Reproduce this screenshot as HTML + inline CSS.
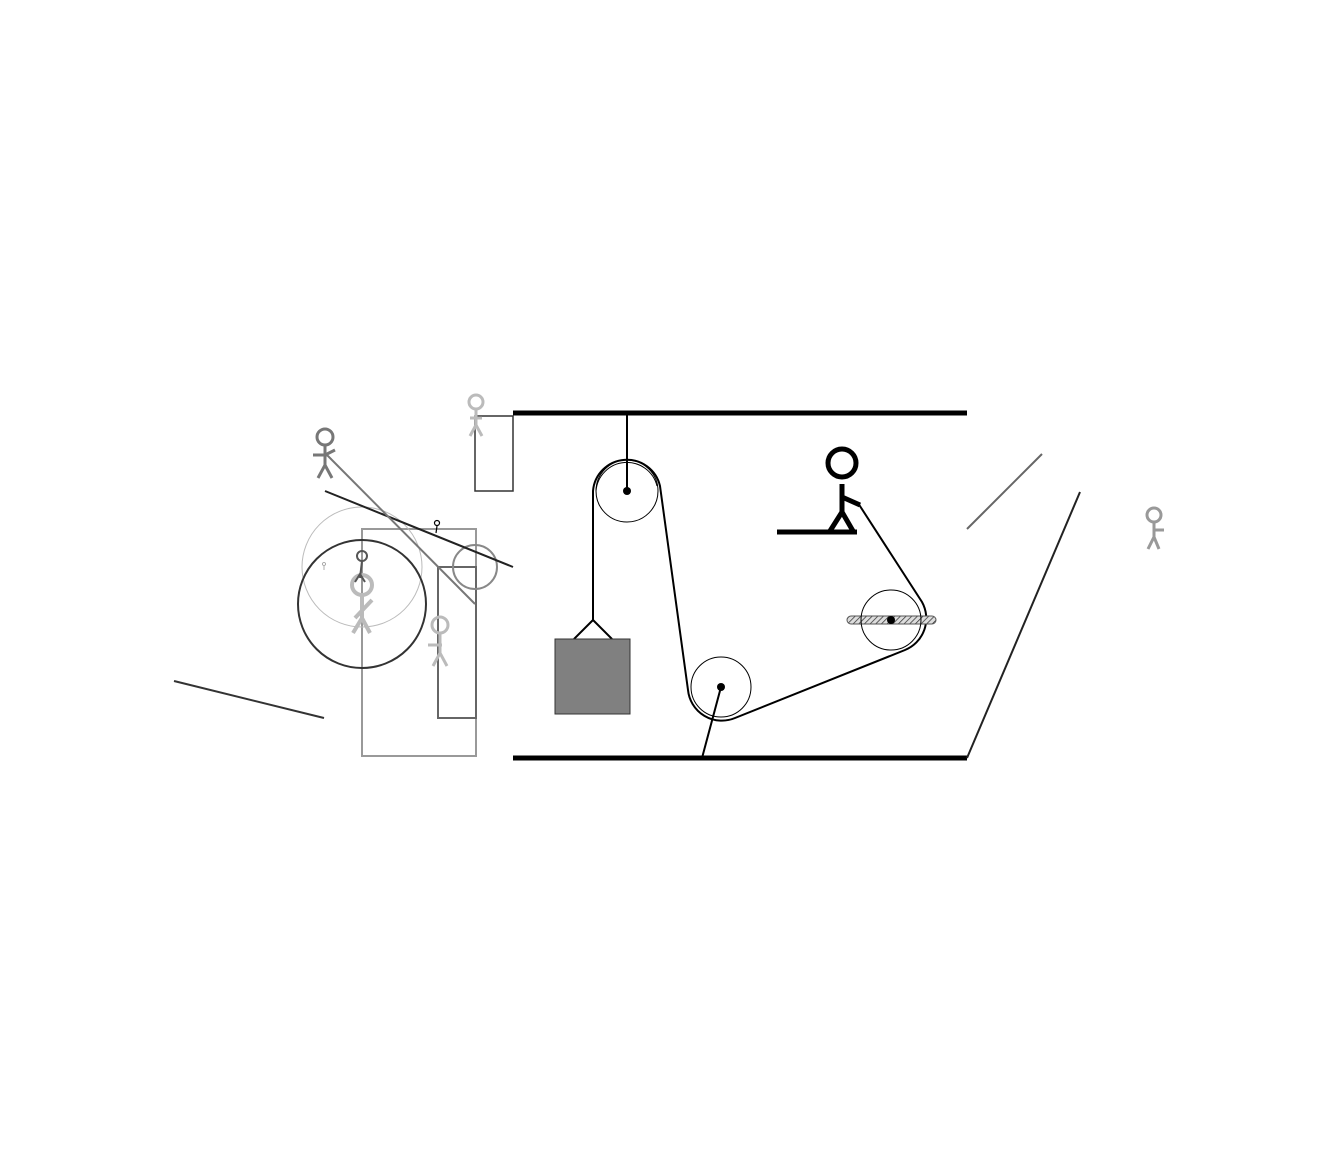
<!DOCTYPE html>
<html><head><meta charset="utf-8"><style>html,body{margin:0;background:#fff}svg{display:block}</style></head>
<body>
<svg width="1343" height="1151" viewBox="0 0 1343 1151" xmlns="http://www.w3.org/2000/svg">
<defs>
<pattern id="hatch" width="4" height="4" patternUnits="userSpaceOnUse" patternTransform="rotate(45)"><rect width="4" height="4" fill="#ddd"/><line x1="0" y1="0" x2="0" y2="4" stroke="#333" stroke-width="1.5"/></pattern>
<g id="fig"><circle cx="0" cy="-8" r="6" fill="none" stroke-width="3"/><line x1="0" y1="-2" x2="0" y2="12"/><line x1="0" y1="12" x2="-5" y2="22"/><line x1="0" y1="12" x2="5" y2="22"/><line x1="-8" y1="4" x2="8" y2="4"/></g>
</defs>
<!-- ceiling & floor -->
<line x1="513" y1="413" x2="967" y2="413" stroke="#000" stroke-width="5"/>
<line x1="513" y1="758" x2="967" y2="758" stroke="#000" stroke-width="5"/>
<line x1="967" y1="758" x2="1080" y2="492" stroke="#222" stroke-width="2"/>
<line x1="967" y1="529" x2="1042" y2="454" stroke="#666" stroke-width="2"/>
<!-- top pulley -->
<line x1="627" y1="413" x2="627" y2="491" stroke="#000" stroke-width="2"/>
<circle cx="627" cy="491" r="31" fill="none" stroke="#000" stroke-width="1"/>
<circle cx="627" cy="491" r="4" fill="#000"/>
<!-- rope -->
<path d="M593,620 L593,491 A34,34 0 0 1 660,486 L688,690 A34,34 0 0 0 735,718 L905,650 A34,34 0 0 0 922,602 L858,503" fill="none" stroke="#000" stroke-width="2"/>
<path d="M596,491 A31,31 0 0 1 657,486" fill="none" stroke="#000" stroke-width="1"/>
<!-- weight -->
<path d="M593,620 L574,639 M593,620 L612,639" stroke="#000" stroke-width="2"/>
<rect x="555" y="639" width="75" height="75" fill="#808080" stroke="#333" stroke-width="1"/>
<!-- bottom pulley -->
<circle cx="721" cy="687" r="30" fill="none" stroke="#000" stroke-width="1"/>
<circle cx="721" cy="687" r="4" fill="#000"/>
<line x1="721" y1="687" x2="702" y2="758" stroke="#000" stroke-width="2"/>
<!-- right pulley -->
<rect x="847" y="616" width="89" height="8" rx="4" fill="url(#hatch)" stroke="#555" stroke-width="1"/>
<circle cx="891" cy="620" r="30" fill="none" stroke="#000" stroke-width="1"/>
<circle cx="891" cy="620" r="4" fill="#000"/>
<!-- man -->
<g stroke="#000" stroke-width="5" fill="none">
<circle cx="842" cy="463" r="14"/>
<line x1="842" y1="484" x2="842" y2="512"/>
<path d="M830,531 L842,512 L853,531"/>
<line x1="842" y1="497" x2="860" y2="505"/>
</g>
<line x1="777" y1="532" x2="857" y2="532" stroke="#000" stroke-width="5"/>
<!-- left cluster -->
<rect x="362" y="529" width="114" height="227" fill="none" stroke="#999" stroke-width="2"/>
<rect x="438" y="567" width="38" height="151" fill="none" stroke="#666" stroke-width="2"/>
<rect x="475" y="416" width="38" height="75" fill="none" stroke="#333" stroke-width="1.5"/>
<circle cx="362" cy="567" r="60" fill="none" stroke="#bbb" stroke-width="1"/>
<circle cx="362" cy="604" r="64" fill="none" stroke="#333" stroke-width="2"/>
<circle cx="475" cy="567" r="22" fill="none" stroke="#888" stroke-width="2"/>
<line x1="325" y1="491" x2="513" y2="567" stroke="#222" stroke-width="2"/>
<line x1="327" y1="455" x2="475" y2="604" stroke="#777" stroke-width="2"/>
<line x1="174" y1="681" x2="324" y2="718" stroke="#333" stroke-width="2"/>
<g stroke="#777" stroke-width="3" fill="none"><circle cx="325" cy="437" r="8"/><line x1="325" y1="446" x2="325" y2="465"/><path d="M318,478 L325,465 L332,478"/><line x1="313" y1="455" x2="327" y2="455"/><line x1="325" y1="455" x2="335" y2="450"/></g>
<g stroke="#bbb" stroke-width="3" fill="none"><circle cx="476" cy="402" r="7"/><line x1="476" y1="409" x2="476" y2="425"/><path d="M470,436 L476,425 L482,436"/><line x1="470" y1="418" x2="482" y2="418"/></g>
<g stroke="#bbb" stroke-width="3" fill="none"><circle cx="440" cy="625" r="8"/><line x1="440" y1="634" x2="440" y2="653"/><path d="M433,666 L440,653 L447,666"/><line x1="428" y1="645" x2="442" y2="645"/></g>
<g stroke="#bbb" stroke-width="4" fill="none"><circle cx="362" cy="585" r="10"/><line x1="362" y1="596" x2="362" y2="618"/><path d="M353,633 L362,618 L370,633"/><line x1="355" y1="618" x2="372" y2="600"/></g>
<g stroke="#555" stroke-width="2" fill="none"><circle cx="362" cy="556" r="5"/><line x1="362" y1="561" x2="360" y2="578"/><path d="M355,582 L360,574 L365,582"/></g>
<g stroke="#000" stroke-width="1.2" fill="none"><circle cx="437" cy="523" r="2.5"/><line x1="437" y1="526" x2="436" y2="533"/></g>
<g stroke="#999" stroke-width="0.8" fill="none"><circle cx="324" cy="564" r="1.5"/><line x1="324" y1="566" x2="324" y2="570"/></g>
<g stroke="#999" stroke-width="3" fill="none"><circle cx="1154" cy="515" r="7"/><line x1="1154" y1="522" x2="1154" y2="537"/><path d="M1148,549 L1154,537 L1159,549"/><line x1="1154" y1="530" x2="1164" y2="530"/></g>
</svg>
</body></html>
